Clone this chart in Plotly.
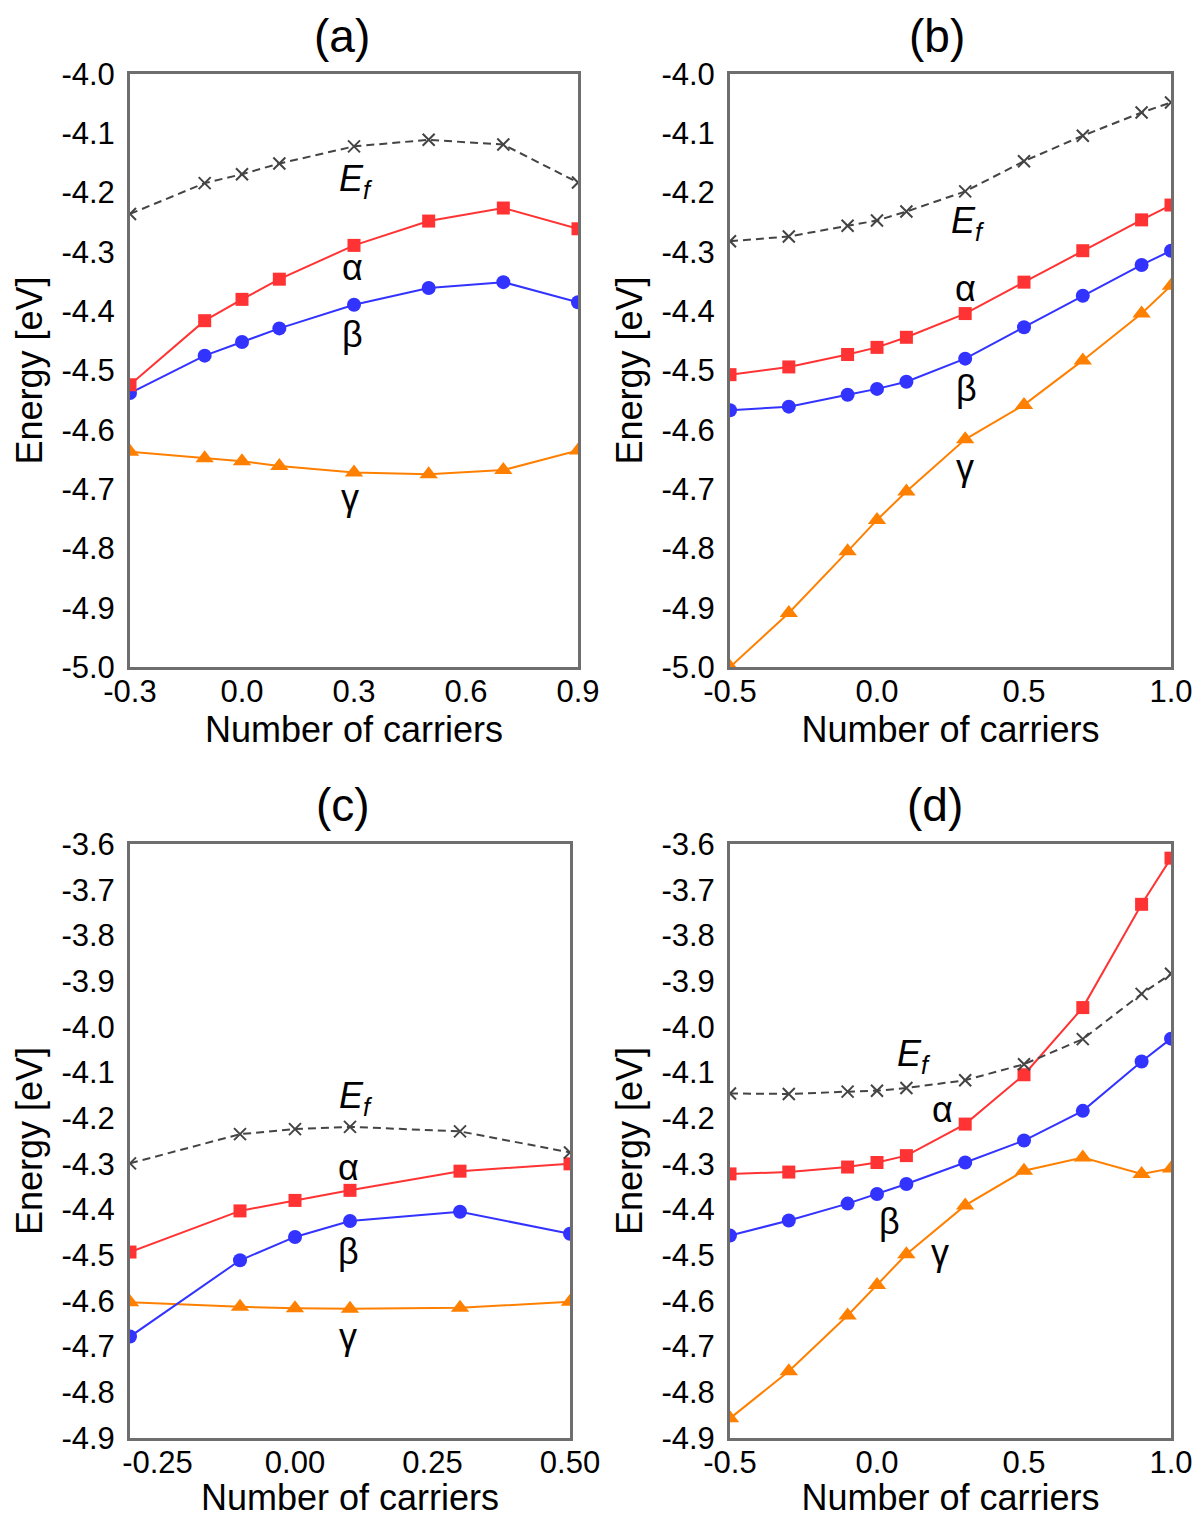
import plotly.graph_objects as go

# ---------------- data ----------------
# panel (a)
xa = [-0.3, -0.1, 0.0, 0.1, 0.3, 0.5, 0.7, 0.9]
a_ef = [-4.236, -4.184, -4.169, -4.151, -4.122, -4.111, -4.119, -4.183]
a_alpha = [-4.524, -4.416, -4.380, -4.346, -4.289, -4.248, -4.226, -4.261]
a_beta = [-4.538, -4.475, -4.452, -4.429, -4.389, -4.361, -4.351, -4.385]
a_gamma = [-4.637, -4.648, -4.653, -4.661, -4.672, -4.675, -4.668, -4.635]

# panel (b)
xb = [-0.5, -0.3, -0.1, 0.0, 0.1, 0.3, 0.5, 0.7, 0.9, 1.0]
b_ef = [-4.282, -4.274, -4.256, -4.247, -4.232, -4.198, -4.147, -4.104, -4.065, -4.048]
b_alpha = [-4.507, -4.494, -4.473, -4.461, -4.444, -4.404, -4.351, -4.298, -4.246, -4.221]
b_beta = [-4.567, -4.561, -4.541, -4.531, -4.519, -4.480, -4.427, -4.374, -4.322, -4.298]
b_gamma = [-5.000, -4.909, -4.805, -4.752, -4.704, -4.616, -4.558, -4.483, -4.404, -4.357]

# panel (c)
xc = [-0.3, -0.1, 0.0, 0.1, 0.3, 0.5]
c_ef = [-4.299, -4.235, -4.224, -4.219, -4.229, -4.275]
c_alpha = [-4.493, -4.403, -4.380, -4.358, -4.316, -4.300]
c_beta = [-4.678, -4.511, -4.460, -4.425, -4.405, -4.453]
c_gamma = [-4.603, -4.613, -4.616, -4.617, -4.615, -4.602]

# panel (d)
xd = [-0.5, -0.3, -0.1, 0.0, 0.1, 0.3, 0.5, 0.7, 0.9, 1.0]
d_ef = [-4.146, -4.147, -4.142, -4.140, -4.134, -4.117, -4.082, -4.027, -3.928, -3.884]
d_alpha = [-4.322, -4.318, -4.307, -4.297, -4.282, -4.213, -4.105, -3.958, -3.732, -3.631]
d_beta = [-4.457, -4.424, -4.387, -4.366, -4.344, -4.297, -4.249, -4.184, -4.076, -4.026]
d_gamma = [-4.857, -4.754, -4.632, -4.565, -4.498, -4.391, -4.315, -4.286, -4.322, -4.310]

panel_titles = ["(a)", "(b)", "(c)", "(d)"]
x_title = "Number of carriers"
y_title = "Energy [eV]"

# ticks
xticks_a = [-0.3, 0.0, 0.3, 0.6, 0.9]
xticks_b = [-0.5, 0.0, 0.5, 1.0]
xticks_c = [-0.25, 0.0, 0.25, 0.5]
xticks_d = [-0.5, 0.0, 0.5, 1.0]
yticks_top = [round(-5.0 + 0.1 * i, 1) for i in range(11)]
yticks_bot = [round(-4.9 + 0.1 * i, 1) for i in range(14)]

# ---------------- styling ----------------
W, H = 1196, 1518
FONT = "Liberation Sans, Arial, Helvetica, sans-serif"
RED = "#ff3333"
BLUE = "#3333ff"
ORANGE = "#ff8000"
GRAY = "#444444"
FRAME = "#6e6e6e"

# plot areas in pixels (left, right, top, bottom)
areas = [
    (130, 578, 74, 667),
    (730, 1171, 74, 667),
    (130, 570, 844, 1438),
    (730, 1171, 844, 1438),
]

fig = go.Figure()

datasets = [
    (xa, a_ef, a_alpha, a_beta, a_gamma),
    (xb, b_ef, b_alpha, b_beta, b_gamma),
    (xc, c_ef, c_alpha, c_beta, c_gamma),
    (xd, d_ef, d_alpha, d_beta, d_gamma),
]

for i, (x, ef, al, be, ga) in enumerate(datasets):
    sfx = "" if i == 0 else str(i + 1)
    xr, yr = "x" + sfx, "y" + sfx
    fig.add_trace(go.Scatter(x=x, y=ga, mode="lines+markers", xaxis=xr, yaxis=yr,
                             line=dict(color=ORANGE, width=2),
                             marker=dict(symbol="triangle-up", size=16, color=ORANGE),
                             showlegend=False, name="γ"))
    fig.add_trace(go.Scatter(x=x, y=be, mode="lines+markers", xaxis=xr, yaxis=yr,
                             line=dict(color=BLUE, width=2),
                             marker=dict(symbol="circle", size=14, color=BLUE),
                             showlegend=False, name="β"))
    fig.add_trace(go.Scatter(x=x, y=al, mode="lines+markers", xaxis=xr, yaxis=yr,
                             line=dict(color=RED, width=2),
                             marker=dict(symbol="square", size=13, color=RED),
                             showlegend=False, name="α"))
    fig.add_trace(go.Scatter(x=x, y=ef, mode="lines+markers", xaxis=xr, yaxis=yr,
                             line=dict(color=GRAY, width=2, dash="8px,5px"),
                             marker=dict(symbol="x-thin", size=12,
                                         line=dict(color=GRAY, width=2)),
                             showlegend=False, name="Ef"))

xranges = [[-0.3, 0.9], [-0.5, 1.0], [-0.3, 0.5], [-0.5, 1.0]]
yranges = [[-5.0, -4.0], [-5.0, -4.0], [-4.9, -3.6], [-4.9, -3.6]]
xticks = [xticks_a, xticks_b, xticks_c, xticks_d]
xfmt = ["{:.1f}", "{:.1f}", "{:.2f}", "{:.1f}"]
yticks = [yticks_top, yticks_top, yticks_bot, yticks_bot]

layout = {}
for i in range(4):
    sfx = "" if i == 0 else str(i + 1)
    l, r, t, b = areas[i]
    layout["xaxis" + sfx] = dict(
        domain=[l / W, r / W], anchor="y" + sfx, range=xranges[i], automargin=False,
        tickvals=xticks[i], ticktext=[xfmt[i].format(v) for v in xticks[i]],
        showgrid=False, zeroline=False, showline=True, mirror=True,
        linecolor=FRAME, linewidth=3, ticks="", ticklabelstandoff=-5,
        tickfont=dict(family=FONT, size=31, color="black"),
        title=dict(text=x_title, font=dict(family=FONT, size=36, color="black"), standoff=8),
    )
    layout["yaxis" + sfx] = dict(
        domain=[1 - b / H, 1 - t / H], anchor="x" + sfx, range=yranges[i], automargin=False,
        tickvals=yticks[i], ticktext=["{:.1f}".format(v) for v in yticks[i]],
        showgrid=False, zeroline=False, showline=True, mirror=True,
        linecolor=FRAME, linewidth=3, ticks="", ticklabelstandoff=6,
        tickfont=dict(family=FONT, size=31, color="black"),
        title=dict(text=y_title, font=dict(family=FONT, size=36, color="black"), standoff=8),
    )

annotations = []
title_pos = [(342, 36), (937, 36), (343, 805), (935, 805)]
for (px, py), txt in zip(title_pos, panel_titles):
    annotations.append(dict(text=txt, x=px / W, y=1 - py / H, xref="paper", yref="paper",
                            showarrow=False, xanchor="center", yanchor="middle",
                            font=dict(family=FONT, size=46, color="black")))

# curve labels (data coordinates)
labels = [
    # (panel index, text, x, y)
    (0, "<i>E<sub>f</sub></i>", 0.305, -4.18),
    (0, "α", 0.295, -4.327),
    (0, "β", 0.295, -4.44),
    (0, "γ", 0.29, -4.715),
    (1, "<i>E<sub>f</sub></i>", 0.31, -4.252),
    (1, "α", 0.3, -4.361),
    (1, "β", 0.305, -4.53),
    (1, "γ", 0.3, -4.664),
    (2, "<i>E<sub>f</sub></i>", 0.11, -4.155),
    (2, "α", 0.098, -4.309),
    (2, "β", 0.098, -4.492),
    (2, "γ", 0.096, -4.678),
    (3, "<i>E<sub>f</sub></i>", 0.125, -4.063),
    (3, "α", 0.223, -4.182),
    (3, "β", 0.042, -4.427),
    (3, "γ", 0.213, -4.495),
]
for idx, txt, lx, ly in labels:
    sfx = "" if idx == 0 else str(idx + 1)
    annotations.append(dict(text=txt, x=lx, y=ly, xref="x" + sfx, yref="y" + sfx,
                            showarrow=False, xanchor="center", yanchor="middle",
                            font=dict(family=FONT, size=36, color="black")))

fig.update_layout(
    template="none",
    width=W, height=H,
    margin=dict(l=0, r=0, t=0, b=0, autoexpand=False),
    paper_bgcolor="white", plot_bgcolor="white",
    showlegend=False,
    annotations=annotations,
    **layout,
)

fig.write_html("out.html", config={"displayModeBar": False},
               post_script="document.body.style.margin='0';")
